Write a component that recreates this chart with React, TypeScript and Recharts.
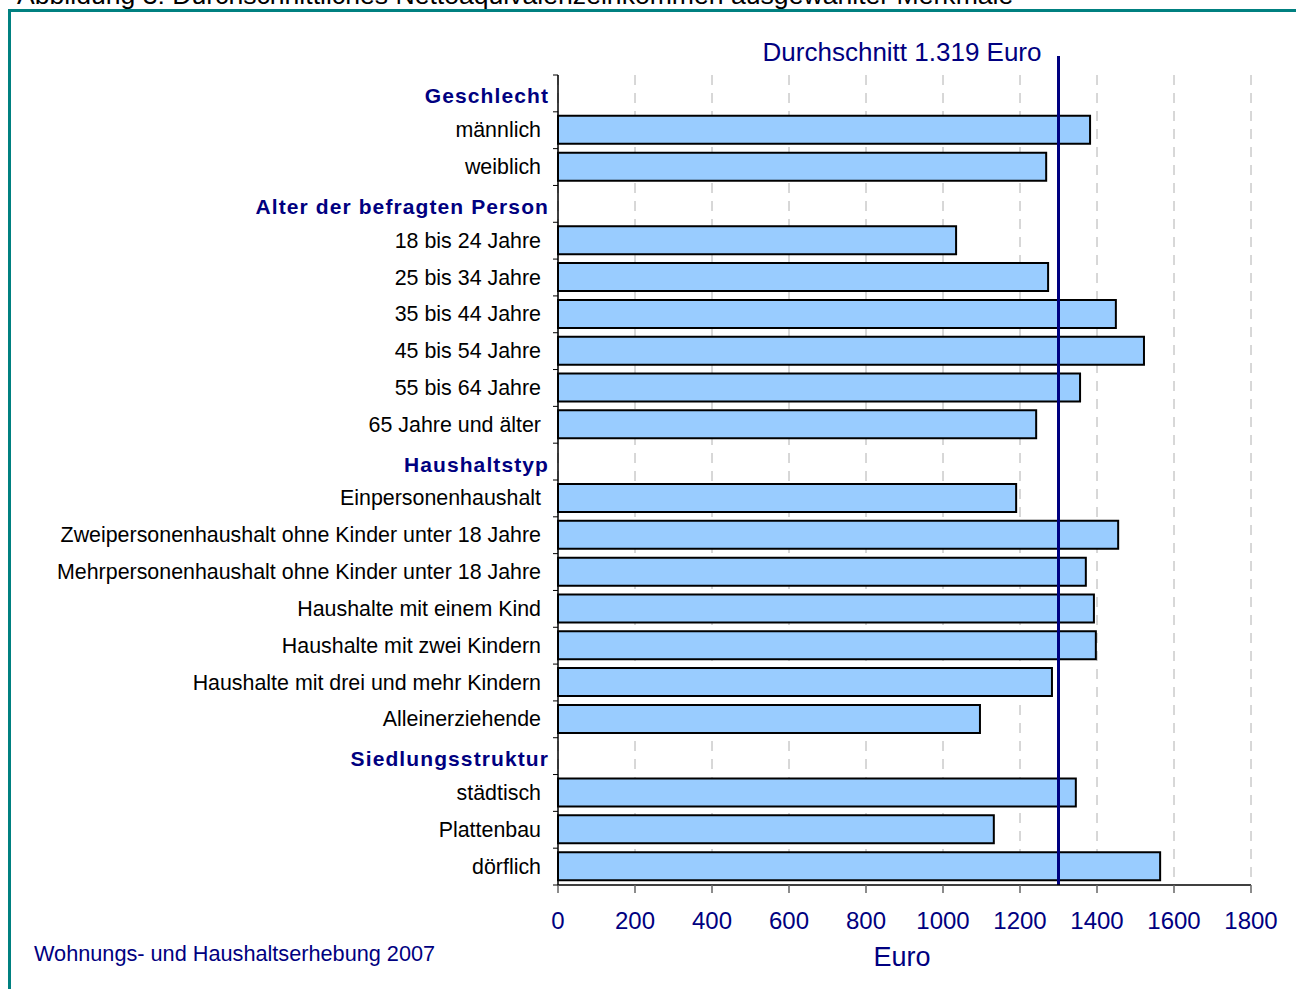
import {
  BarChart,
  Bar,
  XAxis,
  YAxis,
  CartesianGrid,
  ReferenceLine,
} from "recharts";

const categories = [
  "Geschlecht",
  "männlich",
  "weiblich",
  "Alter der befragten Person",
  "18 bis 24 Jahre",
  "25 bis 34 Jahre",
  "35 bis 44 Jahre",
  "45 bis 54 Jahre",
  "55 bis 64 Jahre",
  "65 Jahre und älter",
  "Haushaltstyp",
  "Einpersonenhaushalt",
  "Zweipersonenhaushalt ohne Kinder unter 18 Jahre",
  "Mehrpersonenhaushalt ohne Kinder unter 18 Jahre",
  "Haushalte mit einem Kind",
  "Haushalte mit zwei Kindern",
  "Haushalte mit drei und mehr Kindern",
  "Alleinerziehende",
  "Siedlungsstruktur",
  "städtisch",
  "Plattenbau",
  "dörflich",
];

const headers = ["Geschlecht", "Alter der befragten Person", "Haushaltstyp", "Siedlungsstruktur"];

const values = [
  null, 1382, 1268,
  null, 1034, 1273, 1449, 1522, 1356, 1242,
  null, 1190, 1455, 1371, 1392, 1397, 1283, 1096,
  null, 1345, 1132, 1564,
];

const xTicks = [0, 200, 400, 600, 800, 1000, 1200, 1400, 1600, 1800];
const averageLine = 1300;
const averageLabel = "Durchschnitt 1.319 Euro";

const data = categories.map((name, i) => ({ name, value: values[i] }));

const NAVY = "#000080";
const FONT = "'Liberation Sans', Arial, sans-serif";
const PLOT_TOP = 75;
const PLOT_BOTTOM = 885;
const BAND = (PLOT_BOTTOM - PLOT_TOP) / categories.length;

// eslint-disable-next-line @typescript-eslint/no-explicit-any
function CategoryTick(props: any) {
  const { x, y, payload, index } = props;
  const isHeader = headers.includes(payload.value);
  const top = y - BAND / 2;
  return (
    <g>
      <line x1={x - 5} x2={x} y1={top} y2={top} stroke="#000" />
      {index === categories.length - 1 && (
        <line x1={x - 5} x2={x} y1={top + BAND} y2={top + BAND} stroke="#000" />
      )}
      <text
        x={isHeader ? x - 9 : x - 17}
        y={isHeader ? y + 10 : y + 7}
        textAnchor="end"
        fontFamily={FONT}
        fontSize={isHeader ? 21 : 21.4}
        fontWeight={isHeader ? "bold" : "normal"}
        letterSpacing={isHeader ? 1.1 : 0}
        fill={isHeader ? NAVY : "#000"}
      >
        {payload.value}
      </text>
    </g>
  );
}

// eslint-disable-next-line @typescript-eslint/no-explicit-any
function AverageLabel(props: any) {
  const { viewBox } = props;
  const x = viewBox.x;
  return (
    <g>
      <line x1={x} x2={x} y1={56} y2={viewBox.y} stroke={NAVY} strokeWidth={3} />
      <text x={x - 17} y={61} textAnchor="end" fontFamily={FONT} fontSize={26} fill={NAVY}>
        {averageLabel}
      </text>
    </g>
  );
}

export default function App() {
  return (
    <div
      style={{
        position: "absolute",
        left: 0,
        top: 0,
        width: 1296,
        height: 989,
        overflow: "hidden",
        background: "#fff",
        fontFamily: FONT,
      }}
    >
      <div
        style={{
          position: "absolute",
          left: 17,
          top: -20,
          fontSize: 26.6,
          lineHeight: "30px",
          color: "#000",
          whiteSpace: "nowrap",
        }}
      >
        Abbildung 3: Durchschnittliches Nettoäquivalenzeinkommen ausgewählter Merkmale
      </div>
      <div
        style={{
          position: "absolute",
          left: 8,
          top: 9,
          width: 1400,
          height: 1100,
          border: "3px solid #008080",
        }}
      />
      <div style={{ position: "absolute", left: 0, top: 0 }}>
        <BarChart
          width={1296}
          height={989}
          data={data}
          layout="vertical"
          barCategoryGap={0}
          margin={{ top: PLOT_TOP, right: 45, bottom: 989 - PLOT_BOTTOM - 40, left: 8 }}
        >
          <CartesianGrid
            horizontal={false}
            vertical={true}
            stroke="#b0b0b0"
            strokeDasharray="10 8"
          />
          <XAxis
            type="number"
            domain={[0, 1800]}
            ticks={xTicks}
            interval={0}
            axisLine={{ stroke: "#000", strokeWidth: 1.5 }}
            tickLine={{ stroke: "#666", strokeWidth: 1.5 }}
            tickSize={8}
            tickMargin={19}
            tick={{ fill: NAVY, fontSize: 24, fontFamily: FONT }}
            height={40}
          />
          <YAxis
            type="category"
            dataKey="name"
            width={550}
            interval={0}
            tickLine={false}
            tickSize={0}
            tickMargin={0}
            axisLine={{ stroke: "#000", strokeWidth: 1.5 }}
            tick={<CategoryTick />}
          />
          <Bar
            dataKey="value"
            fill="#99ccff"
            stroke="#000"
            strokeWidth={2}
            barSize={28}
            isAnimationActive={false}
          />
          <ReferenceLine
            x={averageLine}
            stroke={NAVY}
            strokeWidth={3}
            label={<AverageLabel />}
          />
        </BarChart>
      </div>
      <div
        style={{
          position: "absolute",
          left: 0,
          width: 1804,
          top: 942,
          textAlign: "center",
          fontSize: 27,
          color: NAVY,
        }}
      >
        Euro
      </div>
      <div
        style={{
          position: "absolute",
          left: 34,
          top: 941,
          fontSize: 21.7,
          color: NAVY,
          whiteSpace: "nowrap",
        }}
      >
        Wohnungs- und Haushaltserhebung 2007
      </div>
    </div>
  );
}
